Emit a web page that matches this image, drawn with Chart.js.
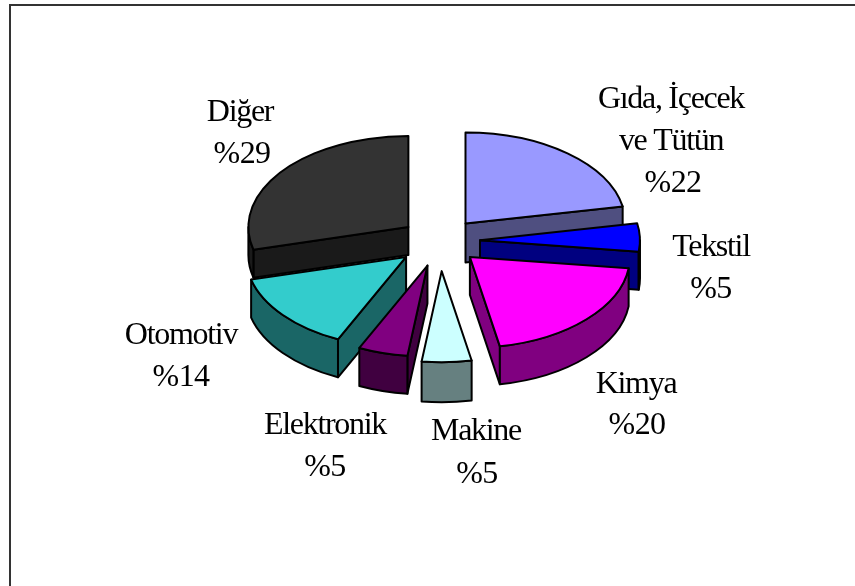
<!DOCTYPE html>
<html><head><meta charset="utf-8">
<style>html,body{margin:0;padding:0;background:#fff}canvas{display:block}</style>
<script src="https://cdn.jsdelivr.net/npm/chart.js@4"></script></head>
<body><canvas id="c" width="855" height="586"></canvas>
<script>
const categories = ["Gıda, İçecek ve Tütün","Tekstil","Kimya","Makine","Elektronik","Otomotiv","Diğer"];
const values = [22,5,20,5,5,14,29];
const topColors = ["#9999FF","#0000FF","#FF00FF","#CCFFFF","#800080","#33CCCC","#333333"];
const sideColors = ["#4F4F80","#000080","#800080","#668080","#400040","#1A6666","#1A1A1A"];
const valueLabels = ["%22","%5","%20","%5","%5","%14","%29"];

const SQUASH = 91/160;
const EXPLODE = [40,40,41,53,45,44,40];
const DEPTH = [39,38,38,40,38,38,28];
const ORDER = [6,0,1,5,2,4,3];
const LABELS = [
  {x:671,ys:[108,150,192],lines:["Gıda, İçecek","ve Tütün"],vx:673},
  {x:711,ys:[256,298],lines:["Tekstil"],vx:711},
  {x:636,ys:[393,434],lines:["Kimya"],vx:637},
  {x:476,ys:[440,483],lines:["Makine"],vx:477},
  {x:325,ys:[434,476],lines:["Elektronik"],vx:325},
  {x:181,ys:[344,386],lines:["Otomotiv"],vx:181},
  {x:240,ys:[121,163],lines:["Diğer"],vx:242}
];

const pie3d = {
  id:'pie3d',
  beforeDatasetsDraw(chart){
    const ctx = chart.ctx, meta = chart.getDatasetMeta(0);
    const cy0 = meta.data[0].y;
    const pt = (cx,cy,r,a)=>[cx+r*Math.cos(a), cy+r*SQUASH*Math.sin(a)];
    ctx.save();
    ctx.lineWidth = 2; ctx.lineJoin='round'; ctx.strokeStyle='#000';
    for(const i of ORDER){
      const arc = meta.data[i];
      const a = arc.startAngle, b = arc.endAngle, mid=(a+b)/2, R=arc.outerRadius;
      const cx = arc.x + EXPLODE[i]*Math.cos(mid);
      const cy = cy0 + EXPLODE[i]*SQUASH*Math.sin(mid);
      const d = DEPTH[i];
      ctx.fillStyle = sideColors[i];
      const wall = ang=>{
        const p = pt(cx,cy,R,ang);
        ctx.beginPath(); ctx.moveTo(cx,cy); ctx.lineTo(p[0],p[1]);
        ctx.lineTo(p[0],p[1]+d); ctx.lineTo(cx,cy+d); ctx.closePath();
        ctx.fill(); ctx.stroke();
      };
      const facing = ang=>Math.cos(ang)<-1e-6, facingEnd = ang=>Math.cos(ang)>1e-6;
      if(facing(a)) wall(a);
      if(facingEnd(b)) wall(b);
      const lo = Math.max(a,0), hi = Math.min(b,Math.PI);
      if(hi>lo){
        ctx.beginPath();
        ctx.ellipse(cx,cy,R,R*SQUASH,0,lo,hi);
        ctx.ellipse(cx,cy+d,R,R*SQUASH,0,hi,lo,true);
        ctx.closePath(); ctx.fill(); ctx.stroke();
      }
      ctx.save();
      ctx.translate(cx,cy); ctx.scale(1,SQUASH); ctx.translate(-arc.x,-arc.y);
      arc.draw(ctx);
      ctx.restore();
      ctx.beginPath(); ctx.moveTo(cx,cy);
      ctx.ellipse(cx,cy,R,R*SQUASH,0,a,b); ctx.closePath(); ctx.stroke();
    }
    ctx.restore();
    return false;
  },
  afterDraw(chart){
    const ctx = chart.ctx;
    ctx.save();
    ctx.strokeStyle='#333'; ctx.lineWidth=2;
    ctx.beginPath(); ctx.moveTo(10,586); ctx.lineTo(10,5); ctx.lineTo(855,5); ctx.stroke();
    ctx.fillStyle='#000'; ctx.font='32px "Liberation Serif"';
    ctx.textAlign='center'; ctx.textBaseline='alphabetic';
    LABELS.forEach((l,i)=>{
      try{ctx.letterSpacing='-1.3px';}catch(e){}
      l.lines.forEach((t,k)=>ctx.fillText(t,l.x,l.ys[k]));
      try{ctx.letterSpacing='-0.6px';}catch(e){}
      ctx.fillText(valueLabels[i],l.vx,l.ys[l.lines.length]);
    });
    ctx.restore();
  }
};

new Chart(document.getElementById('c'),{
  type:'pie',
  data:{labels:categories,datasets:[{data:values,backgroundColor:topColors,borderWidth:0}]},
  options:{
    responsive:false,animation:false,
    layout:{padding:{left:280,right:255,top:81,bottom:185}},
    plugins:{legend:{display:false},tooltip:{enabled:false}}
  },
  plugins:[pie3d]
});
</script></body></html>
